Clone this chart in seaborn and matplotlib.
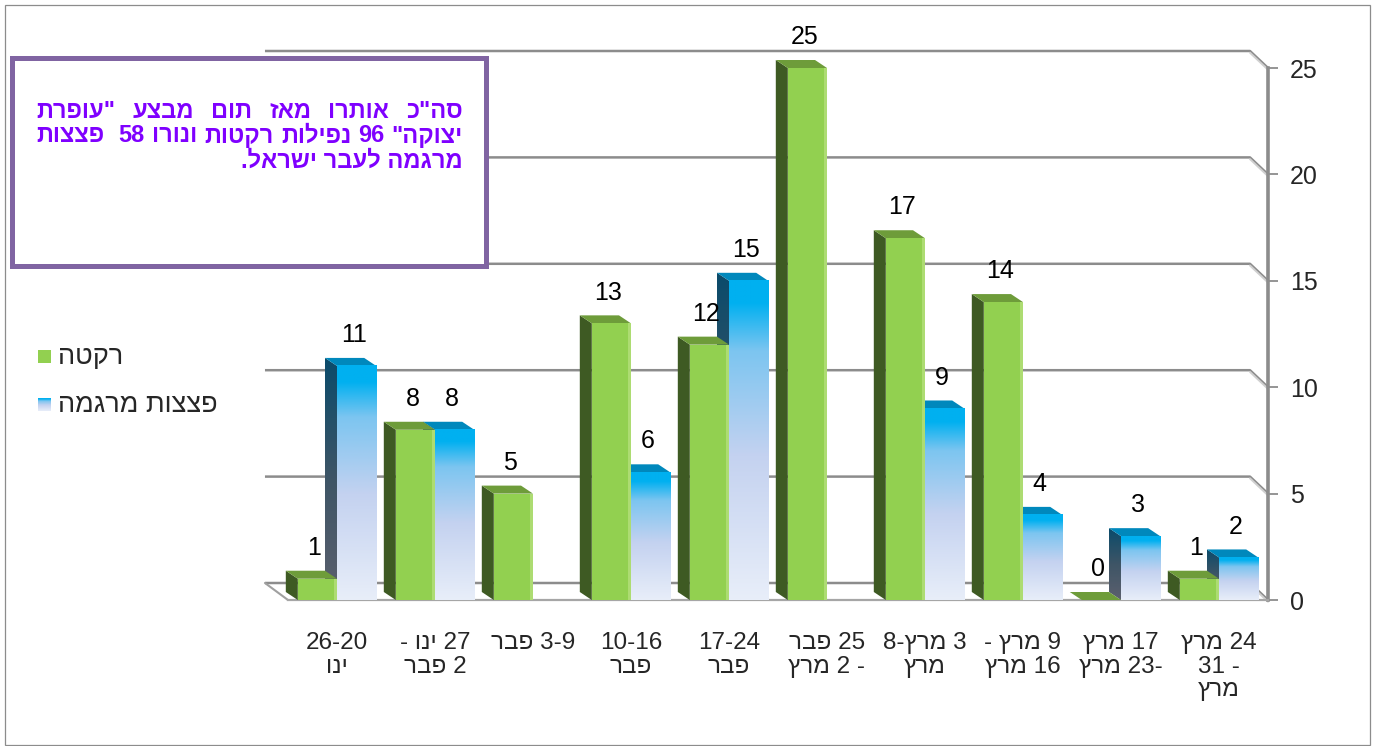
import re
import numpy as np
import pandas as pd
import matplotlib
matplotlib.use("Agg")
import matplotlib.pyplot as plt
import seaborn as sns
from matplotlib.patches import Polygon, Rectangle
from matplotlib.colors import LinearSegmentedColormap

# ---------------- data ----------------
weeks = ['26-20\nינו', '27 ינו -\n2 פבר', '3-9 פבר', '10-16\nפבר', '17-24\nפבר',
         '25 פבר\n- 2 מרץ', '3 מרץ-8\nמרץ', '9 מרץ -\n16 מרץ', '17 מרץ\n-23 מרץ',
         '24 מרץ\n- 31\nמרץ']
rockets = [1, 8, 5, 13, 12, 25, 17, 14, 0, 1]
mortars = [11, 8, np.nan, 6, 15, np.nan, 9, 4, 3, 2]
series_names = ['רקטה', 'פצצות מרגמה']
yticks = [0, 5, 10, 15, 20, 25]
note_lines = ['סה"כ אותרו מאז תום מבצע "עופרת',
              'יצוקה" 96 נפילות רקטות ונורו 58  פצצות',
              'מרגמה לעבר ישראל.']


def rtl(s):
    """visual (left-to-right) order of a right-to-left line"""
    toks = re.findall(r'\d+(?:-\d+)*|\D', s)
    return ''.join(reversed(toks))


def rtl_multi(s):
    return '\n'.join(rtl(l) for l in s.split('\n'))


GREEN = '#92D050'
GREEN_SIDE = '#3E5A23'
GREEN_TOP = '#6E9C3A'
BLUE = '#00B0F0'
BLUE_TOP = '#0088BC'
blue_cmap = LinearSegmentedColormap.from_list(
    'bl', [(0, '#E8EEF9'), (0.45, '#C4D2F0'), (0.78, '#7CC5F0'), (0.93, '#00B0F0'),
           (1, '#00B0F0')])
side_cmap = LinearSegmentedColormap.from_list(
    'sd', [(0, '#5C606E'), (0.5, '#3E5566'), (1, '#0A4B6B')])

sns.set_theme(style='white')
plt.rcParams['font.family'] = ['Liberation Sans', 'DejaVu Sans']

W, H = 1374, 746
fig = plt.figure(figsize=(W / 100, H / 100), dpi=100)
fig.patch.set_facecolor('white')

# axes: x from 288px to 1268px, y 0 at 600px, 25 at 68px (from top)
ax = fig.add_axes([288 / W, (H - 600) / H, 980 / W, 532 / H])
ax.set_facecolor('none')

df = pd.DataFrame({
    'week': weeks * 2,
    'value': rockets + mortars,
    'type': [series_names[0]] * len(weeks) + [series_names[1]] * len(weeks),
})
sns.barplot(data=df, x='week', y='value', hue='type', hue_order=series_names,
            palette=[GREEN, BLUE], width=0.8, saturation=1, ax=ax,
            legend=False, err_kws={'linewidth': 0})

ppx = 98.0          # px per category
ppy = 532 / 25.0    # px per unit
dx, dy = -12 / ppx, 8 / ppy          # bar depth
bdx, bdy = -20 / ppx, 17 / ppy       # back wall offset

NUM_FS = 18
green_rgb = matplotlib.colors.to_rgb(GREEN)
for p in list(ax.patches):
    h = p.get_height()
    x0, w = p.get_x(), p.get_width()
    is_green = np.allclose(p.get_facecolor()[:3], green_rgb, atol=0.02)
    if not np.isfinite(h):
        p.set_visible(False)
        continue
    side = [(x0, 0), (x0, h), (x0 + dx, h + dy), (x0 + dx, dy)]
    top = [(x0, h), (x0 + w, h), (x0 + w + dx, h + dy), (x0 + dx, h + dy)]
    if is_green:
        p.set_zorder(4.2)
        p.set_edgecolor('none')
        p.set_clip_on(False)
        ax.add_patch(Polygon(side, closed=True, fc=GREEN_SIDE, ec='none', zorder=4.0,
                             clip_on=False))
        ax.add_patch(Polygon(top, closed=True, fc=GREEN_TOP, ec='none', zorder=4.1,
                             clip_on=False))
        if h > 0:
            ax.add_patch(Rectangle((x0 + w - 0.035, 0), 0.035, h, fc='#ADDC72',
                                   ec='none', zorder=4.3, clip_on=False))
    else:
        p.set_visible(False)
        grad = np.linspace(0, 1, 256).reshape(-1, 1)
        ax.imshow(grad, cmap=blue_cmap, extent=[x0, x0 + w, 0, h], origin='lower',
                  aspect='auto', zorder=3.2, interpolation='bilinear', clip_on=False)
        sp = Polygon(side, closed=True, fc='none', ec='none', clip_on=False)
        ax.add_patch(sp)
        im = ax.imshow(grad, cmap=side_cmap, extent=[x0 + dx, x0, 0, h + dy],
                       origin='lower', aspect='auto', zorder=3.0,
                       interpolation='bilinear')
        im.set_clip_path(sp)
        ax.add_patch(Polygon(top, closed=True, fc=BLUE_TOP, ec='none', zorder=3.1,
                             clip_on=False))
    ax.text(x0 + w / 2 - 0.03, h + 1.45, f'{h:g}', ha='center', va='center',
            fontsize=NUM_FS, color='black', zorder=6, clip_on=False)

# back wall gridlines with diagonal connectors to the front axis
for v in yticks:
    xs = [-0.5 - 0.235, 9.5 + bdx + 0.02, 9.5]
    ys = [v + bdy, v + bdy, v]
    ax.plot(xs, ys, color='#8C8C8C', lw=1.8, zorder=1, clip_on=False,
            solid_capstyle='butt')
    ax.plot([9.5 + bdx + 0.02, 9.5], [v + bdy - 0.08, v - 0.08], color='#D0D0D0',
            lw=1.4, zorder=1, clip_on=False)
# left floor edge
ax.plot([-0.5 - 0.235, -0.5], [bdy, 0], color='#A0A0A0', lw=1.5, zorder=1, clip_on=False)

ax.set_xlim(-0.5, 9.5)
ax.set_ylim(0, 25)

# axes styling
for s in ['top', 'left']:
    ax.spines[s].set_visible(False)
ax.spines['right'].set_color('#8C8C8C')
ax.spines['right'].set_linewidth(2.6)
ax.spines['bottom'].set_color('#A6A6A6')
ax.spines['bottom'].set_linewidth(1.6)
ax.yaxis.tick_right()
ax.set_yticks(yticks)
ax.set_yticklabels([str(t) for t in yticks], fontsize=NUM_FS)
ax.tick_params(axis='y', length=7, width=1.3, color='#8C8C8C', pad=9)
ax.set_xticks(range(len(weeks)))
ax.set_xticklabels([rtl_multi(wk) for wk in weeks], fontsize=17.5, linespacing=1.1)
ax.set_xticks(np.arange(-0.5, 10, 1), minor=True)
ax.tick_params(axis='x', which='major', length=0, pad=23)
ax.tick_params(axis='x', which='minor', length=8, width=1.2, color='#A6A6A6',
               direction='out')
ax.set_xlabel('')
ax.set_ylabel('')
ax.grid(False)

# ---------------- overlay (pixel coords, y down) ----------------
ov = fig.add_axes([0, 0, 1, 1], zorder=10)
ov.set_xlim(0, W)
ov.set_ylim(H, 0)
ov.axis('off')
ov.patch.set_alpha(0)

# outer chart border
ov.add_patch(Rectangle((4.5, 4.5), W - 9, H - 6, fc='none', ec='#8C8C8C', lw=0.9))

# note box
ov.add_patch(Rectangle((12, 58), 474, 208, fc='white', ec='#8064A2', lw=3.6, zorder=2))

renderer = fig.canvas.get_renderer()
NOTE_C = '#7F00FF'


def text_w(s, fs, weight='normal'):
    t = ov.text(0, 0, s, fontsize=fs, fontweight=weight)
    w = t.get_window_extent(renderer).width
    t.remove()
    return w


fs_note = 10 * 222 / text_w(rtl(note_lines[2]), 10, 'bold')
left_x, right_x = 36, 463
ys_note = [111, 136, 161]
for li, line in enumerate(note_lines[:2]):
    parts = line.split(' ')
    words, gaps = [], []
    g = 0
    for ptxt in parts:
        if ptxt == '':
            g += 1
            continue
        if words:
            gaps.append(g + 1)
        words.append(ptxt)
        g = 0
    vis_words = [rtl(wd) for wd in reversed(words)]
    vis_gaps = list(reversed(gaps))
    widths = [text_w(wd, fs_note, 'bold') for wd in vis_words]
    unit = (right_x - left_x - sum(widths)) / sum(vis_gaps)
    x = left_x
    for i, wd in enumerate(vis_words):
        ov.text(x, ys_note[li], wd, fontsize=fs_note, fontweight='bold', color=NOTE_C,
                ha='left', va='center', zorder=3)
        x += widths[i] + (unit * vis_gaps[i] if i < len(vis_gaps) else 0)
ov.text(right_x, ys_note[2], rtl(note_lines[2]), fontsize=fs_note, fontweight='bold',
        color=NOTE_C, ha='right', va='center', zorder=3)

# legend
fs_leg = 10 * 160 / text_w(rtl(series_names[1]), 10)
ov.add_patch(Rectangle((38, 350), 13, 13, fc=GREEN, ec='none'))
ov.text(58, 357, rtl(series_names[0]), fontsize=fs_leg, ha='left', va='center')
lg = np.linspace(1, 0, 64).reshape(-1, 1)
ov.imshow(lg, cmap=blue_cmap, extent=[38, 51, 411, 398], aspect='auto',
          interpolation='bilinear')
ov.text(58, 405, rtl(series_names[1]), fontsize=fs_leg, ha='left', va='center')
ov.set_xlim(0, W)
ov.set_ylim(H, 0)

fig.savefig('out.png', dpi=100, facecolor='white')
